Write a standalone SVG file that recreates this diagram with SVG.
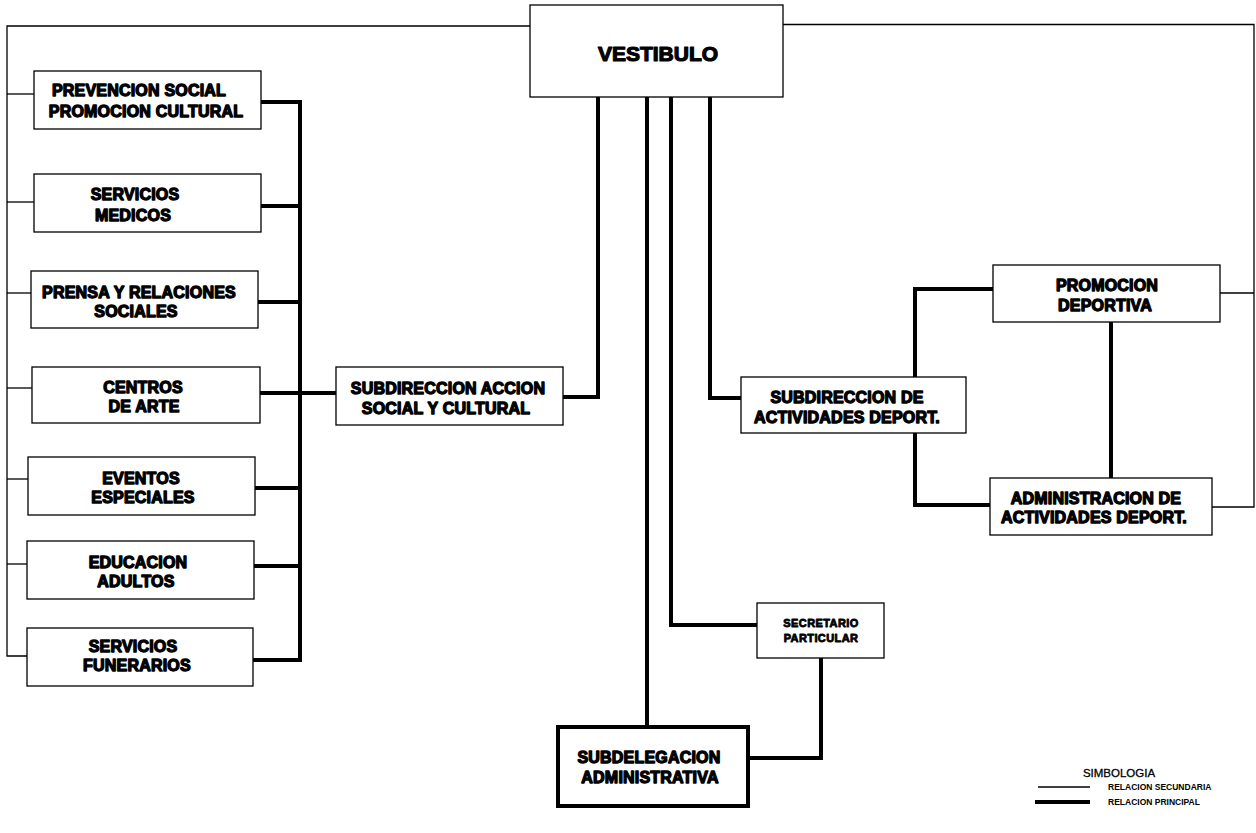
<svg xmlns="http://www.w3.org/2000/svg" width="1256" height="833" viewBox="0 0 1256 833">
<style>
.box{fill:#fff;stroke:#000;stroke-width:1.3}
.boxb{fill:#fff;stroke:#000;stroke-width:4}
.t{font-family:"Liberation Sans",Arial,sans-serif;font-weight:bold;font-size:16px;letter-spacing:0.2px;fill:#000;stroke:#000;stroke-width:1.3;stroke-linejoin:round;text-anchor:middle}
.big{font-size:21px;letter-spacing:0;stroke-width:1.2}
.sm{font-size:11px;letter-spacing:0.4px;stroke-width:0.8}
.lg{font-family:"Liberation Sans",Arial,sans-serif;fill:#000}
.thin{fill:none;stroke:#000;stroke-width:1.3}
.thick{fill:none;stroke:#000;stroke-width:4}
</style>
<rect width="1256" height="833" fill="#fff"/>
<g id="connectors">
  <polyline class="thin" points="530,26 7,26 7,656 27,656"/>
  <line class="thin" x1="7" y1="94" x2="34" y2="94"/>
  <line class="thin" x1="7" y1="202" x2="34" y2="202"/>
  <line class="thin" x1="7" y1="293" x2="31" y2="293"/>
  <line class="thin" x1="7" y1="388" x2="32" y2="388"/>
  <line class="thin" x1="7" y1="479" x2="28" y2="479"/>
  <line class="thin" x1="7" y1="564" x2="27" y2="564"/>
  <polyline class="thin" points="783,24.5 1254,24.5 1254,507 1212,507"/>
  <line class="thin" x1="1220" y1="293" x2="1254" y2="293"/>
  <line class="thick" x1="300" y1="100" x2="300" y2="662"/>
  <line class="thick" x1="261" y1="102" x2="302" y2="102"/>
  <line class="thick" x1="261" y1="206" x2="300" y2="206"/>
  <line class="thick" x1="258" y1="302" x2="300" y2="302"/>
  <line class="thick" x1="260" y1="393" x2="336" y2="393"/>
  <line class="thick" x1="255" y1="488" x2="300" y2="488"/>
  <line class="thick" x1="254" y1="566" x2="300" y2="566"/>
  <line class="thick" x1="253" y1="660" x2="302" y2="660"/>
  <polyline class="thick" points="598,97 598,397 563,397"/>
  <line class="thick" x1="647" y1="97" x2="647" y2="727"/>
  <polyline class="thick" points="671,97 671,625 757,625"/>
  <polyline class="thick" points="710,97 710,398 741,398"/>
  <polyline class="thick" points="915,377 915,289 993,289"/>
  <polyline class="thick" points="915,433 915,505 990,505"/>
  <line class="thick" x1="1111" y1="322" x2="1111" y2="478"/>
  <polyline class="thick" points="821,658 821,758 748,758"/>
</g>
<g id="vestibulo">
  <rect class="box" x="530" y="5" width="253" height="92"/>
  <text class="t big" x="658" y="61">VESTIBULO</text>
</g>
<g id="prevencion">
  <rect class="box" x="34" y="71" width="227" height="58"/>
  <text class="t" x="139" y="96">PREVENCION SOCIAL</text>
  <text class="t" x="146" y="117">PROMOCION CULTURAL</text>
</g>
<g id="servicios-medicos">
  <rect class="box" x="34" y="174" width="227" height="58"/>
  <text class="t" x="135" y="200">SERVICIOS</text>
  <text class="t" x="133" y="221">MEDICOS</text>
</g>
<g id="prensa">
  <rect class="box" x="31" y="271" width="227" height="57"/>
  <text class="t" x="139" y="298">PRENSA Y RELACIONES</text>
  <text class="t" x="136" y="317">SOCIALES</text>
</g>
<g id="centros">
  <rect class="box" x="32" y="367" width="228" height="56"/>
  <text class="t" x="143" y="393">CENTROS</text>
  <text class="t" x="144" y="412">DE ARTE</text>
</g>
<g id="eventos">
  <rect class="box" x="28" y="457" width="227" height="58"/>
  <text class="t" x="141" y="484">EVENTOS</text>
  <text class="t" x="143" y="503">ESPECIALES</text>
</g>
<g id="educacion">
  <rect class="box" x="27" y="541" width="227" height="58"/>
  <text class="t" x="138" y="568">EDUCACION</text>
  <text class="t" x="136" y="587">ADULTOS</text>
</g>
<g id="funerarios">
  <rect class="box" x="27" y="628" width="226" height="58"/>
  <text class="t" x="133" y="652">SERVICIOS</text>
  <text class="t" x="137" y="671">FUNERARIOS</text>
</g>
<g id="subdireccion-accion">
  <rect class="box" x="336" y="367" width="227" height="58"/>
  <text class="t" x="448" y="394">SUBDIRECCION ACCION</text>
  <text class="t" x="446" y="414">SOCIAL Y CULTURAL</text>
</g>
<g id="subdireccion-deport">
  <rect class="box" x="741" y="377" width="225" height="56"/>
  <text class="t" x="847" y="403">SUBDIRECCION DE</text>
  <text class="t" x="847" y="423">ACTIVIDADES DEPORT.</text>
</g>
<g id="promocion-deportiva">
  <rect class="box" x="993" y="265" width="227" height="57"/>
  <text class="t" x="1107" y="291">PROMOCION</text>
  <text class="t" x="1105" y="311">DEPORTIVA</text>
</g>
<g id="administracion-deport">
  <rect class="box" x="990" y="478" width="222" height="57"/>
  <text class="t" x="1096" y="504">ADMINISTRACION DE</text>
  <text class="t" x="1094" y="523">ACTIVIDADES DEPORT.</text>
</g>
<g id="secretario">
  <rect class="box" x="757" y="603" width="127" height="55"/>
  <text class="t sm" x="821" y="627">SECRETARIO</text>
  <text class="t sm" x="821" y="642">PARTICULAR</text>
</g>
<g id="subdelegacion">
  <rect class="boxb" x="558" y="727" width="190" height="79"/>
  <text class="t" x="649" y="763">SUBDELEGACION</text>
  <text class="t" x="650" y="783">ADMINISTRATIVA</text>
</g>
<g id="legend">
  <text class="lg" x="1119" y="777" font-size="11.5" text-anchor="middle" stroke="#000" stroke-width="0.3">SIMBOLOGIA</text>
  <line class="thin" x1="1038" y1="787" x2="1090" y2="787"/>
  <text class="lg" x="1108" y="790" font-size="8.5" font-weight="bold">RELACION SECUNDARIA</text>
  <line class="thick" x1="1035" y1="802" x2="1090" y2="802"/>
  <text class="lg" x="1108" y="805" font-size="8.5" font-weight="bold">RELACION PRINCIPAL</text>
</g>
</svg>
